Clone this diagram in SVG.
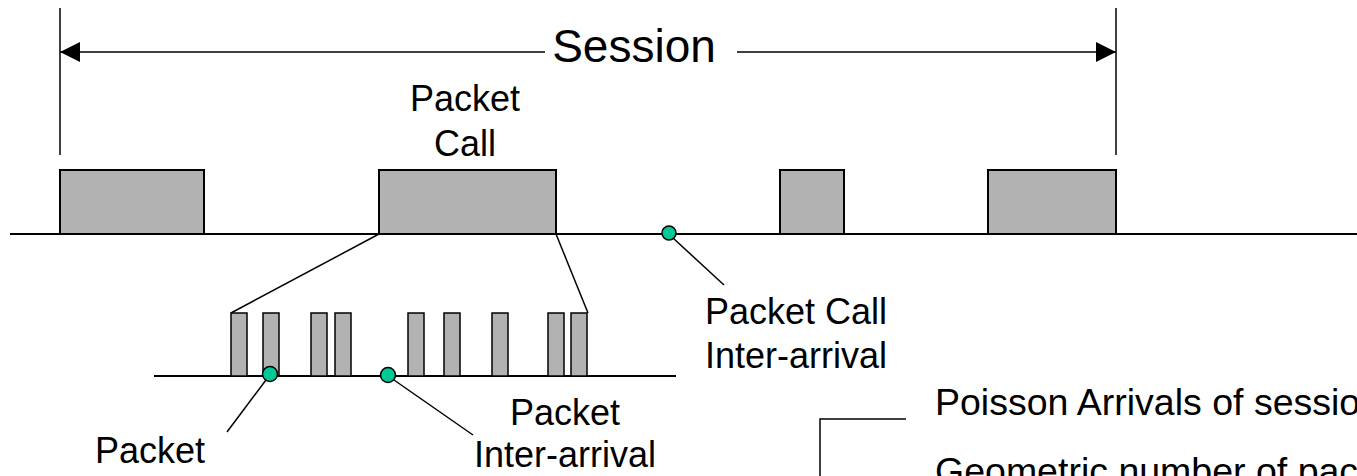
<svg xmlns="http://www.w3.org/2000/svg" width="1357" height="476" viewBox="0 0 1357 476">
<defs>
<style>
.ln{stroke:#000;stroke-width:1.5;fill:none}
.tl{stroke:#000;stroke-width:2;fill:none}
.box{fill:#b2b2b2;stroke:#000;stroke-width:2}
.bar{fill:#b2b2b2;stroke:#000;stroke-width:1.5}
.dot{fill:#00c896;stroke:#000;stroke-width:1.5}
.t{font-family:"Liberation Sans",Arial,sans-serif;font-size:36px;fill:#000}
.tb{font-family:"Liberation Sans",Arial,sans-serif;font-size:37.5px;fill:#000}
.ts{font-family:"Liberation Sans",Arial,sans-serif;font-size:46px;fill:#000}
</style>
<marker id="ah" viewBox="0 0 10 10" refX="10" refY="5" markerWidth="20" markerHeight="20" markerUnits="userSpaceOnUse" orient="auto-start-reverse">
<path d="M0,0 L10,5 L0,10 z" fill="#000"/>
</marker>
</defs>
<g id="session">
<line class="ln" x1="60" y1="8" x2="60" y2="155"/>
<line class="ln" x1="1116" y1="8" x2="1116" y2="155"/>
<line class="ln" x1="60" y1="52" x2="545" y2="52" marker-start="url(#ah)"/>
<line class="ln" x1="737" y1="52" x2="1116" y2="52" marker-end="url(#ah)"/>
<text class="ts" x="634" y="62" text-anchor="middle">Session</text>
</g>
<g id="timeline-top">
<line class="tl" x1="10" y1="234" x2="1357" y2="234"/>
</g>
<g id="packet-calls">
<rect class="box" x="60" y="170" width="144" height="64"/>
<rect class="box" x="379" y="170" width="177" height="64"/>
<rect class="box" x="780" y="170" width="64" height="64"/>
<rect class="box" x="988" y="170" width="128" height="64"/>
<text class="t" x="465" y="111" text-anchor="middle">Packet</text>
<text class="t" x="465" y="156" text-anchor="middle">Call</text>
</g>
<g id="connectors">
<line class="ln" x1="379" y1="234" x2="231" y2="313"/>
<line class="ln" x1="556" y1="234" x2="588" y2="313"/>
<line class="ln" x1="673" y1="238" x2="724" y2="285"/>
<line class="ln" x1="266" y1="380" x2="227" y2="432"/>
<line class="ln" x1="394" y1="380" x2="473" y2="435"/>
</g>
<g id="packets">
<line class="tl" x1="154" y1="376" x2="676" y2="376"/>
<rect class="bar" x="231" y="313" width="16" height="63"/>
<rect class="bar" x="263" y="313" width="16" height="63"/>
<rect class="bar" x="311" y="313" width="16" height="63"/>
<rect class="bar" x="335" y="313" width="16" height="63"/>
<rect class="bar" x="408" y="313" width="16" height="63"/>
<rect class="bar" x="444" y="313" width="16" height="63"/>
<rect class="bar" x="492" y="313" width="16" height="63"/>
<rect class="bar" x="548" y="313" width="16" height="63"/>
<rect class="bar" x="571" y="313" width="16" height="63"/>
</g>
<g id="dots">
<circle class="dot" cx="669" cy="233" r="7"/>
<circle class="dot" cx="270" cy="374" r="7.5"/>
<circle class="dot" cx="388" cy="375" r="7.5"/>
</g>
<g id="labels">
<text class="t" x="705" y="324">Packet Call</text>
<text class="t" x="705" y="368">Inter-arrival</text>
<text class="t" x="565" y="425" text-anchor="middle">Packet</text>
<text class="t" x="565" y="467" text-anchor="middle">Inter-arrival</text>
<text class="t" x="150" y="463" text-anchor="middle">Packet</text>
</g>
<g id="legend">
<polyline class="ln" points="906,419 820,419 820,476"/>
<text class="tb" x="935" y="415">Poisson Arrivals of sessio</text>
<text class="tb" x="935" y="484">Geometric number of pack</text>
</g>
</svg>
